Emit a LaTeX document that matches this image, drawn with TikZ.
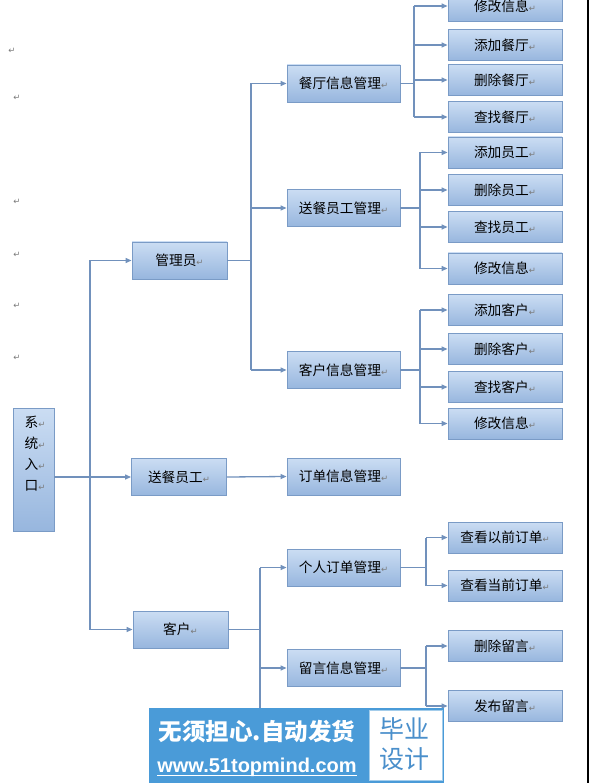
\documentclass[tikz,border=0pt]{standalone}
\usepackage{fontspec}
\usetikzlibrary{arrows.meta}
\newfontfamily\cjk{Noto Sans CJK SC}
\newfontfamily\markfont{DejaVu Sans}
\newfontfamily\urlfont{Liberation Sans}
\definecolor{boxtop}{HTML}{CBDDF3}
\definecolor{boxbot}{HTML}{97B6DE}
\definecolor{boxline}{HTML}{7A9BC6}
\definecolor{conncol}{HTML}{7191BC}
\definecolor{markgray}{HTML}{7A7A7A}
\definecolor{wmblue}{HTML}{4A9BD8}
\definecolor{wmtext}{HTML}{4A8FCB}
\newcommand\retmark{{\markfont\fontsize{8.5}{9}\selectfont\color{markgray}↵}}
\tikzset{
  box/.style={draw=boxline, line width=0.9pt, top color=boxtop, bottom color=boxbot,
    inner sep=0pt, font=\cjk\fontsize{13.7}{16}\selectfont, text=black},
  lone/.style={box, minimum width=95, minimum height=37},
  ltwo/.style={box, minimum width=113, minimum height=37},
  lthree/.style={box, minimum width=114, minimum height=31},
  conn/.style={draw=conncol, line width=1.3pt},
  arr/.style={conn, -{Triangle[length=6pt,width=5pt]}},
  pmark/.style={inner sep=0pt, font=\markfont\fontsize{8.5}{9}\selectfont, text=markgray}
}
\begin{document}
\begin{tikzpicture}[x=1pt,y=-1pt]
\useasboundingbox (0,0) rectangle (593,783);
\clip (0,0) rectangle (593,783);
\fill[white] (0,0) rectangle (593,783);
% paragraph marks on the left
\node[pmark] (m1) at (12,51) {↵};
\node[pmark] (m2) at (17,98) {↵};
\node[pmark] (m3) at (17,202) {↵};
\node[pmark] (m4) at (17,255) {↵};
\node[pmark] (m5) at (17,306) {↵};
\node[pmark] (m6) at (17,358) {↵};
% root
\node[box, minimum width=41, minimum height=123] (root) at (33.5,469.5) {};
\node[align=center, anchor=north, inner sep=0pt, font=\cjk\fontsize{13.7}{21}\selectfont] (roottxt) at (35,416) {系\retmark\\统\retmark\\入\retmark\\口\retmark};
% level 1
\node[lone] (gly) at (179.5,260.5) {管理员\retmark};
\node[lone] (sc) at (179,477) {送餐员工\retmark};
\node[lone] (kh) at (180.5,629.5) {客户\retmark};
% level 2
\node[ltwo] (ct) at (343.5,83.5) {餐厅信息管理\retmark};
\node[ltwo] (yg) at (343.5,208) {送餐员工管理\retmark};
\node[ltwo] (kx) at (343.5,370) {客户信息管理\retmark};
\node[ltwo] (dd) at (343.5,476.5) {订单信息管理\retmark};
\node[ltwo] (gr) at (343.5,567.5) {个人订单管理\retmark};
\node[ltwo] (ly) at (343.5,668) {留言信息管理\retmark};
% level 3
\node[lthree] (a1) at (505,6) {修改信息\retmark};
\node[lthree] (a2) at (505,45) {添加餐厅\retmark};
\node[lthree] (a3) at (505,80) {删除餐厅\retmark};
\node[lthree] (a4) at (505,117) {查找餐厅\retmark};
\node[lthree] (b1) at (505,152.5) {添加员工\retmark};
\node[lthree] (b2) at (505,190) {删除员工\retmark};
\node[lthree] (b3) at (505,227) {查找员工\retmark};
\node[lthree] (b4) at (505,268.5) {修改信息\retmark};
\node[lthree] (c1) at (505,310) {添加客户\retmark};
\node[lthree] (c2) at (505,349) {删除客户\retmark};
\node[lthree] (c3) at (505,387) {查找客户\retmark};
\node[lthree] (c4) at (505,423.5) {修改信息\retmark};
\node[lthree] (d1) at (505,537.5) {查看以前订单\retmark};
\node[lthree] (d2) at (505,585.5) {查看当前订单\retmark};
\node[lthree] (e1) at (505,646) {删除留言\retmark};
\node[lthree] (e2) at (505,706) {发布留言\retmark};
% bus coordinates
\coordinate (x0) at (90,0);
\coordinate (x1) at (251,0);
\coordinate (x2) at (260,0);
\coordinate (xa) at (414,0);
\coordinate (xb) at (420,0);
\coordinate (xd) at (426,0);
\coordinate (kend) at (260,712);
% root connectors
\draw[arr] (root.east |- sc.west) -- (sc.west);
\draw[conn] (x0 |- gly.west) -- (x0 |- kh.west);
\draw[arr] (x0 |- gly.west) -- (gly.west);
\draw[arr] (x0 |- kh.west) -- (kh.west);
% admin
\draw[conn] (gly.east) -- (x1 |- gly.east);
\draw[conn] (x1 |- ct.west) -- (x1 |- kx.west);
\foreach \t in {ct,yg,kx} \draw[arr] (x1 |- \t.west) -- (\t.west);
% delivery staff
\draw[arr] (sc.east) -- (dd.west);
% customer
\draw[conn] (kh.east) -- (x2 |- kh.east);
\draw[conn] (x2 |- gr.west) -- (kend);
\foreach \t in {gr,ly} \draw[arr] (x2 |- \t.west) -- (\t.west);
% restaurant group
\draw[conn] (ct.east) -- (xa |- ct.east);
\draw[conn] (xa |- a1.west) -- (xa |- a4.west);
\foreach \t in {a1,a2,a3,a4} \draw[arr] (xa |- \t.west) -- (\t.west);
% staff group
\draw[conn] (yg.east) -- (xb |- yg.east);
\draw[conn] (xb |- b1.west) -- (xb |- b4.west);
\foreach \t in {b1,b2,b3,b4} \draw[arr] (xb |- \t.west) -- (\t.west);
% customer info group
\draw[conn] (kx.east) -- (xb |- kx.east);
\draw[conn] (xb |- c1.west) -- (xb |- c4.west);
\foreach \t in {c1,c2,c3,c4} \draw[arr] (xb |- \t.west) -- (\t.west);
% personal orders
\draw[conn] (gr.east) -- (xd |- gr.east);
\draw[conn] (xd |- d1.west) -- (xd |- d2.west);
\foreach \t in {d1,d2} \draw[arr] (xd |- \t.west) -- (\t.west);
% messages
\draw[conn] (ly.east) -- (xd |- ly.east);
\draw[conn] (xd |- e1.west) -- (xd |- e2.west);
\foreach \t in {e1,e2} \draw[arr] (xd |- \t.west) -- (\t.west);
% right border
\draw[black, line width=1.2pt] (588,0) -- (588,783);
% watermark
\node[fill=wmblue, inner sep=0pt, minimum width=295, minimum height=75, anchor=north west] (wm) at (149,708) {};
\node[fill=white, draw=wmblue!50, line width=0.6pt, inner sep=0pt, minimum width=73, minimum height=70, anchor=north west] (wmw) at (368.5,709.5) {};
\node[inner sep=0pt, text=white, font=\cjk\bfseries\fontsize{23.5}{26}\selectfont] (wm1) at (257,732) {无须担心.自动发货};
\node[inner sep=0pt, text=white, font=\urlfont\bfseries\fontsize{20}{22}\selectfont] (wm2) at (257,767) {www.51topmind.com};
\draw[white, line width=0.8pt] (wm2.south west) ++(0,-1) -- ([yshift=1pt]wm2.south east);
\node[inner sep=0pt, text=wmtext, font=\cjk\fontsize{25}{30}\selectfont, align=center] (wm3) at (404,744) {毕业\\设计};
\end{tikzpicture}
\end{document}
